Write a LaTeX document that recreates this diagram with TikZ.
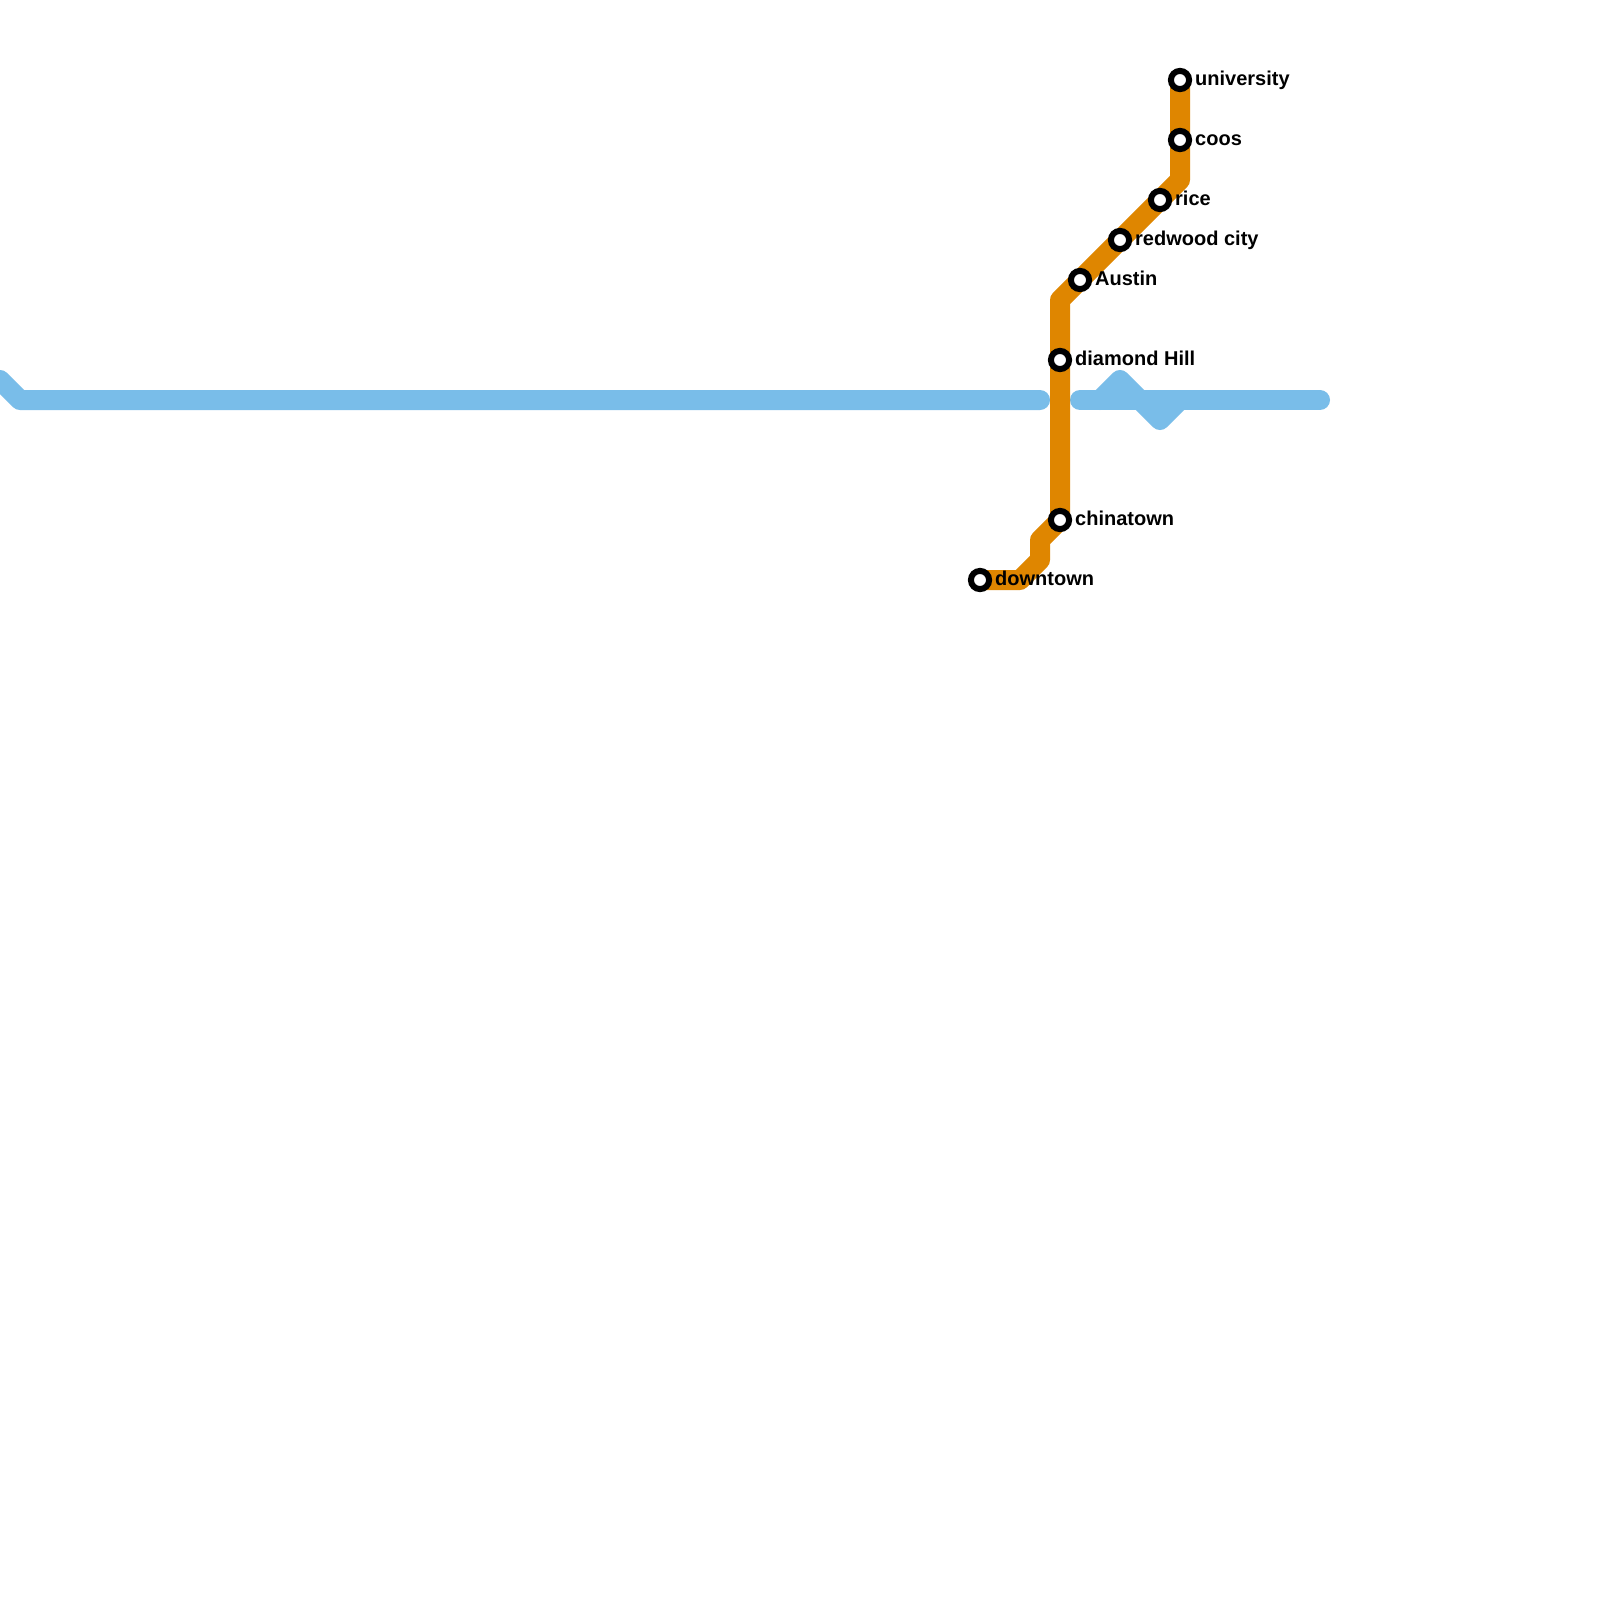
\documentclass[tikz,border=0pt]{standalone}
\usepackage{fontspec}
\setmainfont{Liberation Sans}
\definecolor{lineorange}{HTML}{DF8600}
\definecolor{lineblue}{HTML}{79BDE9}
\tikzset{
  x=1pt,y=-1pt,
  metroline/.style={line width=20pt,line cap=round,line join=round},
  station/.style={circle,draw=black,fill=white,line width=6pt,minimum size=18.2pt,inner sep=0pt},
  stationlabel/.style={anchor=base west,inner sep=0pt,font=\fontsize{20pt}{24pt}\selectfont\bfseries,text=black},
}
\begin{document}
\begin{tikzpicture}
\useasboundingbox[fill=white] (0,0) rectangle (1600,1600);
% station positions
\coordinate (puniversity) at (1180,80);
\coordinate (pcoos) at (1180,140);
\coordinate (price) at (1160,200);
\coordinate (predwood) at (1120,240);
\coordinate (paustin) at (1080,280);
\coordinate (pdiamond) at (1060,360);
\coordinate (pchinatown) at (1060,520);
\coordinate (pdowntown) at (980,580);
% blue line
\coordinate (b0) at (0,380);
\coordinate (b1) at (20,400);
\coordinate (b2) at (1040,400);
\coordinate (b3) at (1080,400);
\coordinate (b4) at (1100,400);
\coordinate (b5) at (1120,380);
\coordinate (b6) at (1160,420);
\coordinate (b7) at (1180,400);
\coordinate (b8) at (1320,400);
\draw[metroline,lineblue] (b0) -- (b1) -- (b2);
\draw[metroline,lineblue] (b3) -- (b8);
\draw[metroline,lineblue] (b4) -- (b5) -- (b6) -- (b7);
% orange line
\coordinate (o1) at (1180,180);
\coordinate (o2) at (1060,300);
\coordinate (o3) at (1040,540);
\coordinate (o4) at (1040,560);
\coordinate (o5) at (1020,580);
\draw[metroline,lineorange] (puniversity) -- (pcoos) -- (o1) -- (price) -- (predwood) -- (paustin) -- (o2) -- (pdiamond) -- (pchinatown) -- (o3) -- (o4) -- (o5) -- (pdowntown);
% stations
\node[station] (university) at (puniversity) {};
\node[station] (coos) at (pcoos) {};
\node[station] (rice) at (price) {};
\node[station] (redwood) at (predwood) {};
\node[station] (austin) at (paustin) {};
\node[station] (diamond) at (pdiamond) {};
\node[station] (chinatown) at (pchinatown) {};
\node[station] (downtown) at (pdowntown) {};
% labels
\node[stationlabel] (luniversity) at (1195,85.6) {university};
\node[stationlabel] (lcoos) at (1195,145.6) {coos};
\node[stationlabel] (lrice) at (1175,205) {rice};
\node[stationlabel] (lredwood) at (1135,245) {redwood city};
\node[stationlabel] (laustin) at (1095,285) {Austin};
\node[stationlabel] (ldiamond) at (1075,365) {diamond Hill};
\node[stationlabel] (lchinatown) at (1075,525) {chinatown};
\node[stationlabel] (ldowntown) at (995,585) {downtown};
\end{tikzpicture}
\end{document}
